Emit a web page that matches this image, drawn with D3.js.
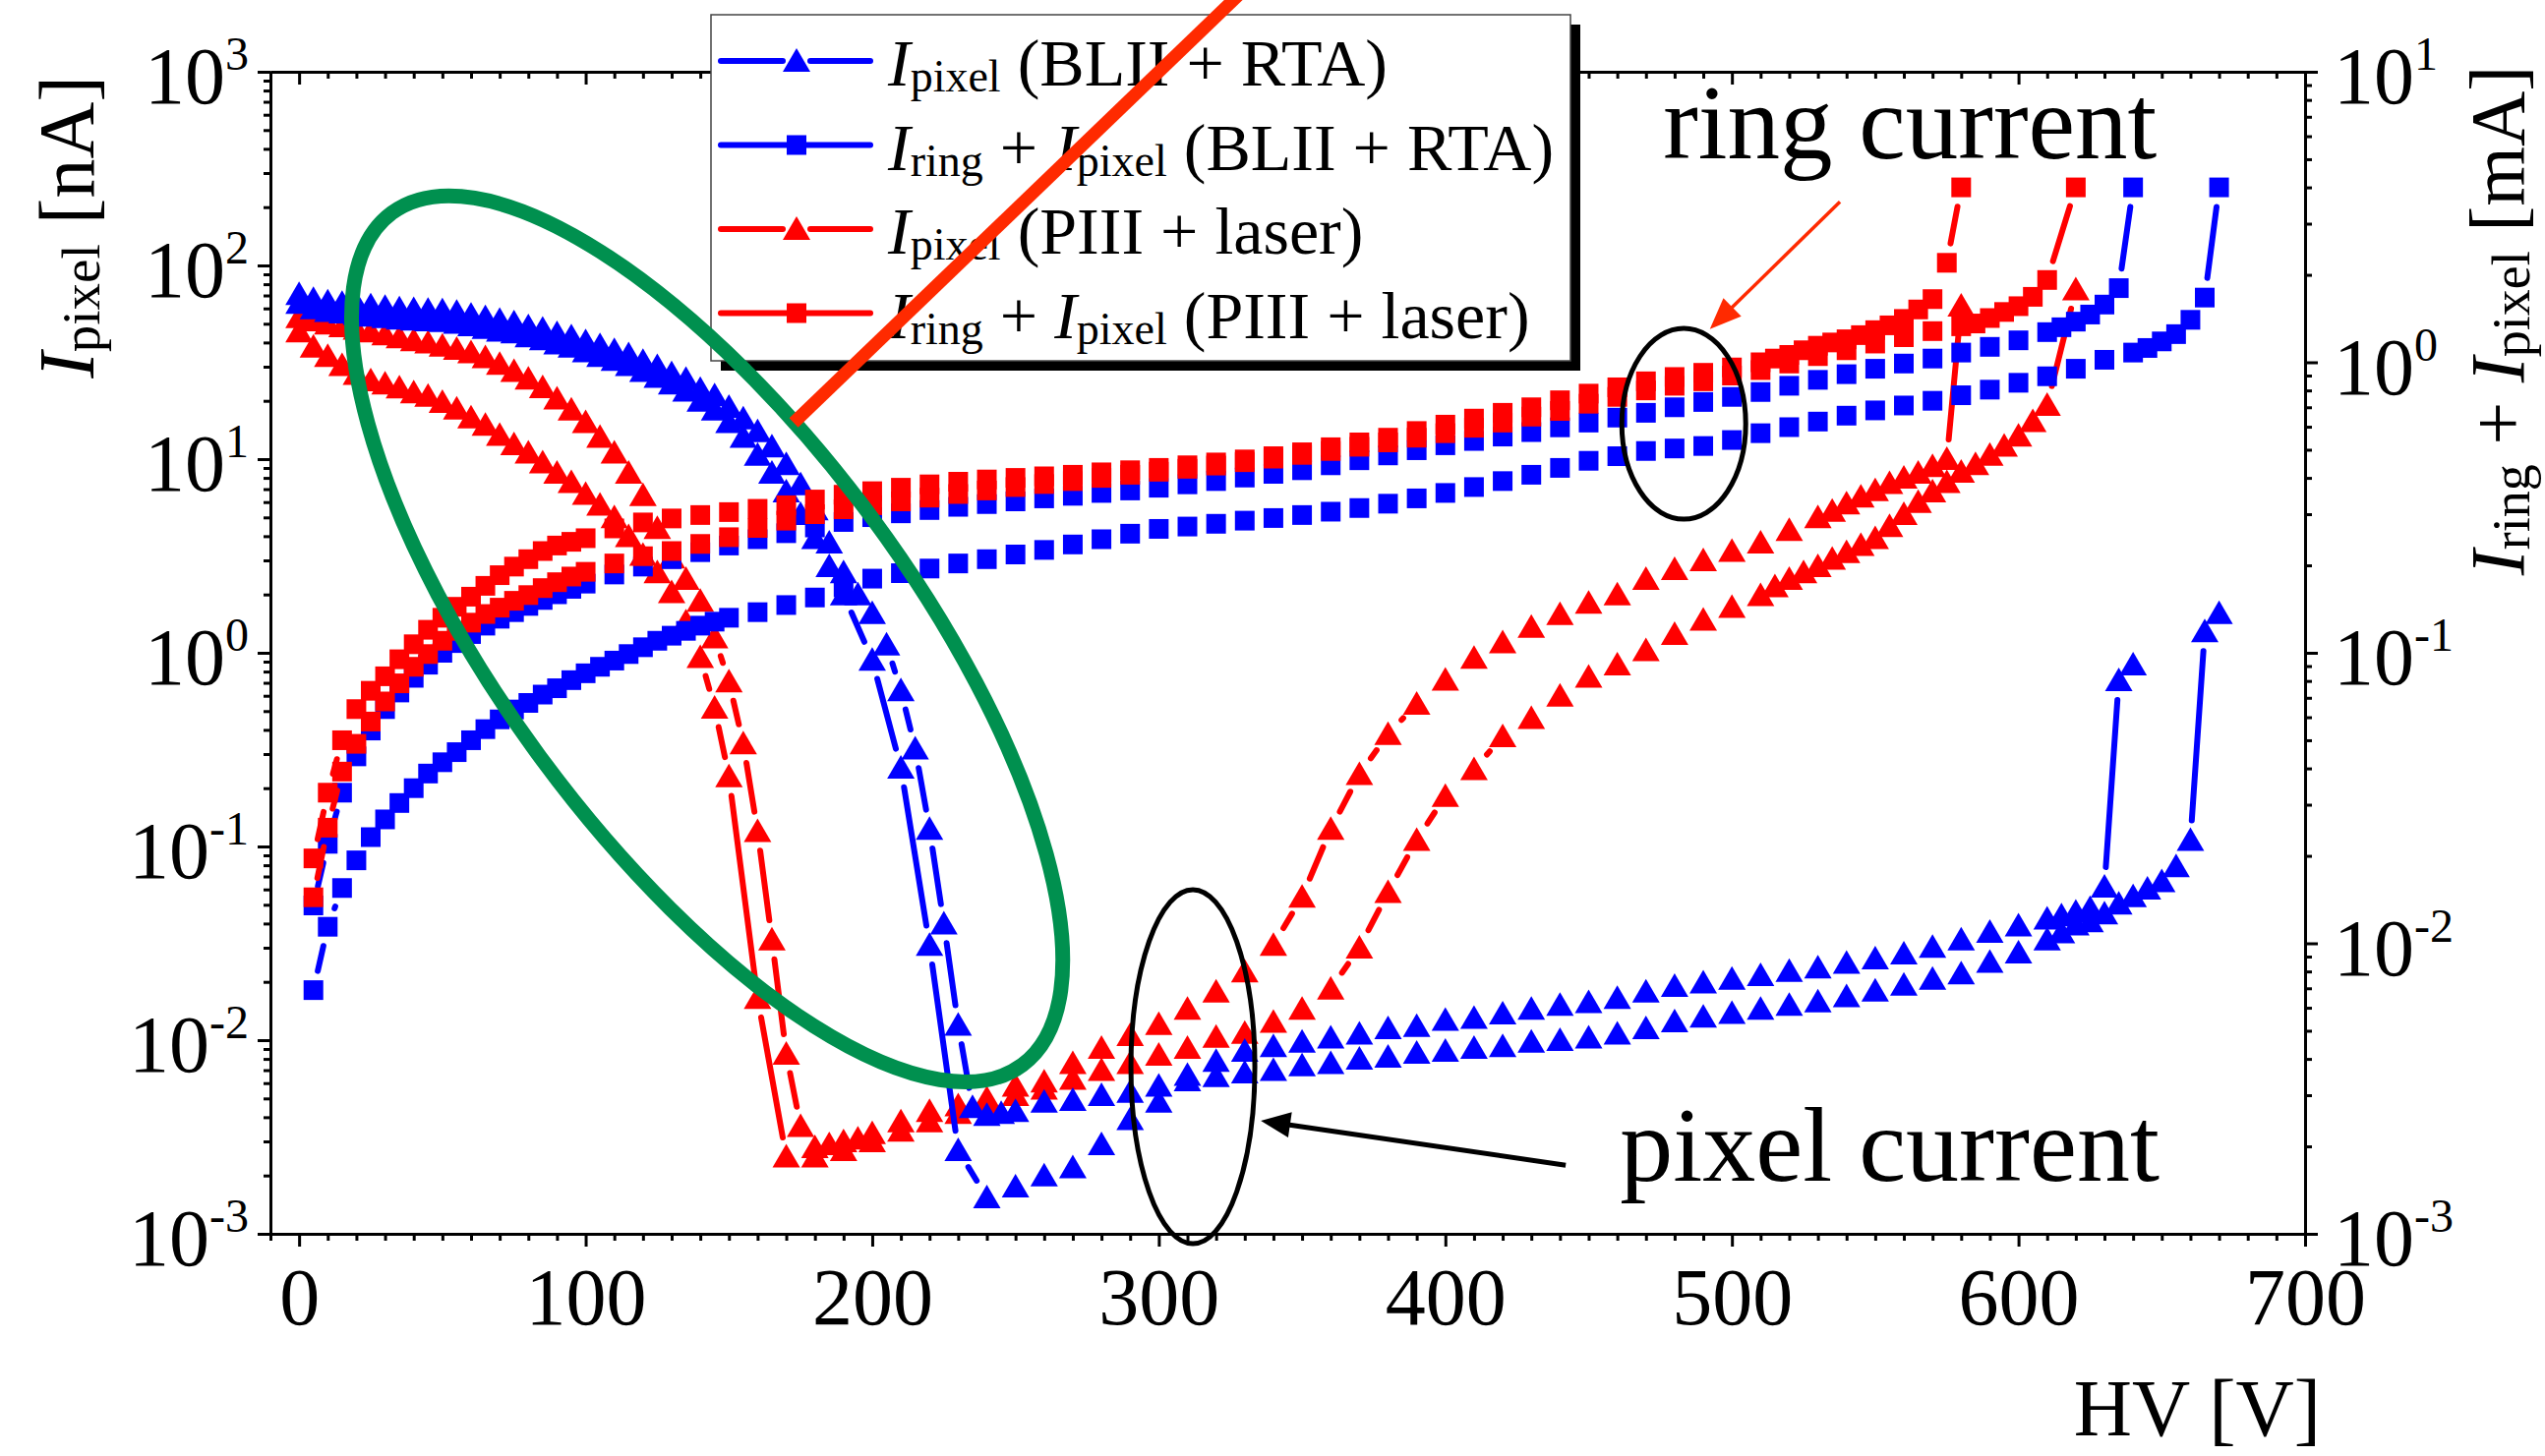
<!DOCTYPE html>
<html>
<head>
<meta charset="utf-8">
<script src="https://cdn.jsdelivr.net/npm/d3@7"></script>
<style>
  html, body { margin: 0; padding: 0; background: #fff; }
  svg { display: block; font-family: "Liberation Serif", "Times New Roman", serif; }
  text { white-space: pre; }
</style>
</head>
<body>
<svg id="chart" width="2588" height="1481"></svg>
<script>
// ---- data: [HV (V), current] ----
// pixel currents in nA (left axis)
const pixBLII_a = [[0,71],[5,67],[10,65],[15,64],[20,63.3],[25,62.1],[30,61],[35,60],[40,59.5],[45,59],[50,58.5],[55,57.5],[60,55.5],[65,54],[70,52.2],[75,50.8],[80,48.5],[85,47],[90,44.7],[95,43],[100,40.5],[105,38.7],[110,36.5],[115,34.7],[120,32.1],[125,30.2],[130,27.7],[135,25.9],[140,23],[145,21.3],[150,18.6],[155,16.2],[160,13.9],[165,11.6],[170,9.4],[175,7.4],[180,5.5],[185,3.7],[190,2.6],[195,2.0],[200,1.6],[205,1.1],[210,0.64],[215,0.32],[220,0.123],[225,0.04],[230,0.012],[235,0.0045],[240,0.0041],[245,0.0042],[250,0.0043],[260,0.0048],[270,0.0049],[280,0.0052],[290,0.0054],[300,0.0058],[310,0.0062],[320,0.0065],[330,0.0068],[340,0.007],[350,0.0074],[360,0.0076],[370,0.008],[380,0.0082],[390,0.0086],[400,0.0088],[410,0.0091],[420,0.0093],[430,0.0098],[440,0.0100],[450,0.0103],[460,0.0108],[470,0.0115],[480,0.0125],[490,0.0132],[500,0.0138],[510,0.0145],[520,0.0152],[530,0.0158],[540,0.0168],[550,0.018],[560,0.0193],[570,0.0207],[580,0.0221],[590,0.0253],[600,0.0283],[610,0.033],[615,0.036],[620,0.0395],[625,0.041],[630,0.045],[635,0.0506],[640,0.0553],[645,0.0605],[650,0.066],[655,0.079],[660,0.108],[665,1.29],[670,1.6]];
const pixBLII_b = [[0,64],[5,60],[10,58],[15,57],[20,56],[25,55],[30,54],[35,53],[40,52.5],[45,52],[50,51.5],[55,50.5],[60,49],[65,47.5],[70,46],[75,45],[80,43],[85,41.5],[90,39.5],[95,38],[100,36],[105,34],[110,32.5],[115,30.5],[120,28.5],[125,26.5],[130,24.5],[135,22.5],[140,20],[145,18],[150,15.5],[155,13],[160,10.5],[165,8.5],[170,6.8],[175,5.2],[180,3.9],[185,2.8],[190,2.0],[200,0.92],[210,0.255],[220,0.031],[230,0.0027],[240,0.00154],[250,0.00175],[260,0.002],[270,0.0022],[280,0.0029],[290,0.0039],[300,0.0048],[310,0.0066],[320,0.0078],[330,0.0088],[340,0.0093],[350,0.0098],[360,0.0103],[370,0.0108],[380,0.0115],[390,0.0118],[400,0.0127],[410,0.013],[420,0.0137],[430,0.0145],[440,0.0152],[450,0.0157],[460,0.0165],[470,0.0178],[480,0.019],[490,0.0198],[500,0.0207],[510,0.0216],[520,0.0227],[530,0.0237],[540,0.025],[550,0.0264],[560,0.028],[570,0.0303],[580,0.033],[590,0.0362],[600,0.039],[610,0.0423],[615,0.044],[620,0.046],[625,0.048],[630,0.062],[635,0.72],[640,0.87]];
const pixPIII_a = [[0,54],[5,52],[10,50],[15,48.5],[20,47],[25,45.5],[30,44],[35,42.5],[40,41],[45,40],[50,38.5],[55,37],[60,35.5],[65,33.5],[70,31],[75,28.5],[80,26],[85,23.5],[90,20.5],[95,18],[100,15.5],[105,13],[110,10.8],[115,8.5],[120,6.5],[125,4.4],[130,3.1],[135,2.4],[140,1.85],[145,1.2],[150,0.71],[155,0.34],[160,0.12],[165,0.033],[170,0.0085],[175,0.0036],[180,0.0028],[185,0.0029],[190,0.003],[195,0.0031],[200,0.0033],[210,0.0038],[220,0.0043],[230,0.0046],[240,0.005],[250,0.0058],[260,0.0061],[270,0.0076],[280,0.0091],[290,0.0106],[300,0.0121],[310,0.0145],[320,0.0178],[330,0.0226],[340,0.031],[350,0.055],[360,0.123],[370,0.236],[380,0.38],[390,0.545],[400,0.725],[410,0.94],[420,1.13],[430,1.36],[440,1.58],[450,1.81],[460,2.0],[470,2.4],[480,2.7],[490,3.0],[500,3.35],[510,3.7],[520,4.3],[530,5.0],[535,5.4],[540,5.9],[545,6.4],[550,6.9],[555,7.5],[560,8.0],[565,8.5],[570,9.2],[575,10],[580,62]];
const pixPIII_b = [[0,45.5],[5,38],[10,34],[15,30.5],[20,27.5],[25,25.5],[30,24.5],[35,23.4],[40,22.1],[45,21.2],[50,19.7],[55,18.2],[60,16.4],[65,15],[70,13.3],[75,11.9],[80,10.8],[85,9.6],[90,8.5],[95,7.6],[100,6.6],[105,5.8],[110,5.0],[115,4.0],[120,3.2],[125,2.6],[130,2.05],[135,1.45],[140,0.95],[145,0.52],[150,0.23],[160,0.0165],[170,0.0025],[180,0.0025],[190,0.0027],[200,0.003],[210,0.0034],[220,0.0038],[230,0.0042],[240,0.0046],[250,0.0052],[260,0.0056],[270,0.0063],[280,0.007],[290,0.0076],[300,0.0084],[310,0.0091],[320,0.0104],[330,0.0109],[340,0.0124],[350,0.0145],[360,0.0184],[370,0.03],[380,0.058],[390,0.108],[400,0.182],[410,0.25],[420,0.37],[430,0.46],[440,0.6],[450,0.75],[460,0.87],[470,1.03],[480,1.25],[490,1.48],[500,1.72],[510,1.98],[515,2.2],[520,2.4],[525,2.6],[530,2.8],[535,3.05],[540,3.3],[545,3.6],[550,3.9],[555,4.5],[560,5.2],[565,6.0],[570,6.8],[575,7.6],[580,8.6],[585,9.4],[590,10.5],[595,11.7],[600,13.2],[605,15.7],[610,19],[620,75]];
// ring + pixel currents in mA (right axis)
const ringBLII_a = [[5,0.0135],[10,0.022],[15,0.033],[20,0.044],[25,0.054],[30,0.064],[35,0.073],[40,0.082],[45,0.091],[50,0.1],[55,0.108],[60,0.116],[65,0.124],[70,0.131],[75,0.138],[80,0.145],[85,0.152],[90,0.159],[95,0.166],[100,0.173],[110,0.186],[120,0.198],[130,0.21],[140,0.222],[150,0.234],[160,0.246],[170,0.258],[180,0.27],[190,0.282],[200,0.293],[210,0.302],[220,0.31],[230,0.318],[240,0.325],[250,0.332],[260,0.34],[270,0.347],[280,0.355],[290,0.362],[300,0.37],[310,0.38],[320,0.39],[330,0.401],[340,0.413],[350,0.425],[360,0.442],[370,0.46],[380,0.478],[390,0.498],[400,0.518],[410,0.536],[420,0.555],[430,0.575],[440,0.597],[450,0.62],[460,0.645],[470,0.67],[480,0.7],[490,0.73],[500,0.76],[510,0.79],[520,0.83],[530,0.87],[540,0.91],[550,0.95],[560,0.99],[570,1.03],[580,1.08],[590,1.13],[600,1.19],[610,1.27],[615,1.32],[620,1.38],[625,1.46],[630,1.58],[635,1.8],[640,4.0]];
const ringBLII_b = [[5,0.0069],[10,0.0114],[15,0.0155],[20,0.0193],[25,0.0232],[30,0.0267],[35,0.0304],[40,0.0342],[45,0.0384],[50,0.042],[55,0.0455],[60,0.05],[65,0.0546],[70,0.059],[75,0.0638],[80,0.0672],[85,0.0718],[90,0.0755],[95,0.0805],[100,0.085],[105,0.0895],[110,0.094],[115,0.099],[120,0.1045],[125,0.11],[130,0.1145],[135,0.119],[140,0.124],[145,0.128],[150,0.132],[160,0.138],[170,0.146],[180,0.155],[190,0.168],[200,0.18],[210,0.188],[220,0.195],[230,0.203],[240,0.21],[250,0.218],[260,0.226],[270,0.236],[280,0.246],[290,0.257],[300,0.267],[310,0.272],[320,0.278],[330,0.285],[340,0.291],[350,0.298],[360,0.306],[370,0.315],[380,0.326],[390,0.34],[400,0.355],[410,0.372],[420,0.39],[430,0.41],[440,0.433],[450,0.458],[460,0.475],[470,0.495],[480,0.505],[490,0.515],[500,0.54],[510,0.57],[520,0.598],[530,0.625],[540,0.655],[550,0.683],[560,0.71],[570,0.737],[580,0.77],[590,0.805],[600,0.85],[610,0.895],[620,0.95],[630,1.02],[640,1.08],[645,1.12],[650,1.18],[655,1.25],[660,1.4],[665,1.67],[670,4.0]];
const ringPIII_a = [[5,0.0196],[10,0.033],[15,0.05],[20,0.064],[25,0.074],[30,0.083],[35,0.095],[40,0.107],[45,0.12],[50,0.132],[55,0.144],[60,0.156],[65,0.17],[70,0.185],[75,0.198],[80,0.21],[85,0.224],[90,0.234],[95,0.241],[100,0.248],[110,0.268],[120,0.281],[130,0.29],[140,0.298],[150,0.305],[160,0.313],[170,0.322],[180,0.337],[190,0.35],[200,0.36],[210,0.37],[220,0.38],[230,0.388],[240,0.395],[250,0.4],[260,0.405],[270,0.41],[280,0.418],[290,0.425],[300,0.433],[310,0.442],[320,0.452],[330,0.463],[340,0.475],[350,0.49],[360,0.51],[370,0.53],[380,0.55],[390,0.58],[400,0.61],[410,0.64],[420,0.67],[430,0.7],[440,0.74],[450,0.78],[460,0.82],[470,0.86],[480,0.89],[490,0.92],[500,0.96],[510,1.0],[515,1.03],[520,1.06],[525,1.1],[530,1.14],[535,1.17],[540,1.2],[545,1.24],[550,1.29],[555,1.34],[560,1.41],[565,1.52],[570,1.65],[575,2.2],[580,4.0]];
const ringPIII_b = [[5,0.0144],[10,0.025],[15,0.039],[20,0.0486],[25,0.058],[30,0.068],[35,0.0785],[40,0.0895],[45,0.099],[50,0.11],[55,0.119],[60,0.127],[65,0.136],[70,0.143],[75,0.151],[80,0.158],[85,0.167],[90,0.175],[95,0.183],[100,0.19],[110,0.203],[120,0.215],[130,0.224],[140,0.237],[150,0.25],[160,0.269],[170,0.285],[180,0.3],[190,0.312],[200,0.322],[210,0.332],[220,0.342],[230,0.352],[240,0.362],[250,0.372],[260,0.381],[270,0.39],[280,0.4],[290,0.41],[300,0.42],[310,0.43],[320,0.441],[330,0.453],[340,0.466],[350,0.48],[360,0.495],[370,0.512],[380,0.53],[390,0.55],[400,0.57],[410,0.595],[420,0.62],[430,0.65],[440,0.68],[450,0.72],[460,0.76],[470,0.8],[480,0.83],[490,0.86],[500,0.9],[510,0.94],[520,0.99],[530,1.05],[540,1.1],[550,1.16],[560,1.22],[570,1.28],[580,1.33],[585,1.36],[590,1.42],[595,1.49],[600,1.56],[605,1.68],[610,1.92],[620,4.0]];

// ---- axis ticks ----
const xMajor = [0, 100, 200, 300, 400, 500, 600, 700];
const pixDecades = [-3, -2, -1, 0, 1, 2, 3];
const ringDecades = [-3, -2, -1, 0, 1];

// ---- legend ----
const legendLabels = [
  [["I", "it"], ["pixel", "sub"], [" (BLII + RTA)", ""]],
  [["I", "it"], ["ring", "sub"], [" + ", ""], ["I", "it"], ["pixel", "sub"], [" (BLII + RTA)", ""]],
  [["I", "it"], ["pixel", "sub"], [" (PIII + laser)", ""]],
  [["I", "it"], ["ring", "sub"], [" + ", ""], ["I", "it"], ["pixel", "sub"], [" (PIII + laser)", ""]]
];

const blue = "#0000ff", red = "#ff0000";
const svg = d3.select("#chart");
const plot = { left: 275, right: 2344, top: 73, bottom: 1255 };

const x = d3.scaleLinear().domain([-10, 700]).range([plot.left, plot.right]);
const yPix = d3.scaleLog().domain([1e-3, 1e3]).range([plot.bottom, plot.top]);
const yRing = d3.scaleLog().domain([1e-3, 10]).range([plot.bottom, plot.top]);

function minorLog(decades) {
  const out = [];
  decades.slice(0, -1).forEach(k => { for (let m = 2; m <= 9; m++) out.push(m * Math.pow(10, k)); });
  return out;
}
const xMinor = d3.range(-10, 701, 10).filter(v => v % 100 !== 0);

function styleAxis(g) {
  g.selectAll("path.domain").attr("stroke", "#000").attr("stroke-width", 3);
  g.selectAll(".tick line").attr("stroke", "#000").attr("stroke-width", 3);
}

// bottom axis
svg.append("g").attr("transform", `translate(0,${plot.bottom})`)
  .call(d3.axisBottom(x).tickValues(xMinor).tickSize(7).tickSizeOuter(0).tickFormat(""))
  .call(styleAxis);
const xAxisG = svg.append("g").attr("transform", `translate(0,${plot.bottom})`)
  .call(d3.axisBottom(x).tickValues(xMajor).tickSize(13).tickSizeOuter(0).tickPadding(21).tickFormat(d3.format("d")))
  .call(styleAxis);
xAxisG.selectAll("text").attr("font-size", 82).attr("font-family", "Liberation Serif").attr("fill", "#000");

// top axis (ticks inward)
svg.append("g").attr("transform", `translate(0,${plot.top})`)
  .call(d3.axisTop(x).tickValues(xMinor).tickSize(-7).tickSizeOuter(0).tickFormat(""))
  .call(styleAxis);
svg.append("g").attr("transform", `translate(0,${plot.top})`)
  .call(d3.axisTop(x).tickValues(xMajor).tickSize(-13).tickSizeOuter(0).tickFormat(""))
  .call(styleAxis);

// left axis
svg.append("g").attr("transform", `translate(${plot.left},0)`)
  .call(d3.axisLeft(yPix).tickValues(minorLog(pixDecades)).tickSize(7).tickSizeOuter(0).tickFormat(""))
  .call(styleAxis);
svg.append("g").attr("transform", `translate(${plot.left},0)`)
  .call(d3.axisLeft(yPix).tickValues(pixDecades.map(k => Math.pow(10, k))).tickSize(13).tickSizeOuter(0).tickFormat(""))
  .call(styleAxis);

// right axis
svg.append("g").attr("transform", `translate(${plot.right},0)`)
  .call(d3.axisRight(yRing).tickValues(minorLog(ringDecades)).tickSize(7).tickSizeOuter(0).tickFormat(""))
  .call(styleAxis);
svg.append("g").attr("transform", `translate(${plot.right},0)`)
  .call(d3.axisRight(yRing).tickValues(ringDecades.map(k => Math.pow(10, k))).tickSize(13).tickSizeOuter(0).tickFormat(""))
  .call(styleAxis);

// power-of-ten labels
function powerLabel(g, px, py, k, anchor) {
  const t = g.append("text").attr("x", px).attr("y", py + 32)
    .attr("text-anchor", anchor).attr("font-size", 82).attr("fill", "#000");
  t.append("tspan").text("10");
  t.append("tspan").attr("dy", -34).attr("font-size", 48).text(k < 0 ? "-" + (-k) : String(k));
}
const labelsG = svg.append("g");
pixDecades.forEach(k => powerLabel(labelsG, 253, yPix(Math.pow(10, k)), k, "end"));
ringDecades.forEach(k => powerLabel(labelsG, 2373, yRing(Math.pow(10, k)), k, "start"));

// axis titles
function richText(t, parts, size, sub) {
  parts.forEach(([s, kind]) => {
    const ts = t.append("tspan").text(s);
    if (kind === "it") ts.attr("font-style", "italic");
    if (kind === "sub") ts.attr("font-size", sub).attr("dy", 6);
    else if (t.node().lastSub) ts.attr("dy", -6);
    t.node().lastSub = kind === "sub";
  });
}
const leftTitle = svg.append("text").attr("transform", "translate(95,231) rotate(-90)")
  .attr("text-anchor", "middle").attr("font-size", 80).attr("fill", "#000");
richText(leftTitle, [["I", "it"], ["pixel", "sub"], [" [nA]", ""]], 80, 55);
const rightTitle = svg.append("text").attr("transform", "translate(2566,326) rotate(-90)")
  .attr("text-anchor", "middle").attr("font-size", 78).attr("fill", "#000");
richText(rightTitle, [["I", "it"], ["ring", "sub"], [" + ", ""], ["I", "it"], ["pixel", "sub"], [" [mA]", ""]], 78, 54);
svg.append("text").attr("x", 2360).attr("y", 1460).attr("text-anchor", "end")
  .attr("font-size", 82).attr("fill", "#000").text("HV [V]");

// ---- series ----
const triPath = "M0,-13L14,11L-14,11Z";
const sqPath = "M-10,-10h20v20h-20z";
const gap = 20;

function drawSeries(data, yScale, color, shape) {
  const g = svg.append("g");
  const pts = data.map(d => [x(d[0]), yScale(d[1])]);
  for (let i = 1; i < pts.length; i++) {
    const [x0, y0] = pts[i - 1], [x1, y1] = pts[i];
    const len = Math.hypot(x1 - x0, y1 - y0);
    if (len <= 2 * gap + 2) continue;
    const ux = (x1 - x0) / len, uy = (y1 - y0) / len;
    g.append("line")
      .attr("x1", x0 + ux * gap).attr("y1", y0 + uy * gap)
      .attr("x2", x1 - ux * gap).attr("y2", y1 - uy * gap)
      .attr("stroke", color).attr("stroke-width", 6).attr("stroke-linecap", "round");
  }
  g.selectAll("path.m").data(pts).enter().append("path")
    .attr("class", "m")
    .attr("d", shape === "tri" ? triPath : sqPath)
    .attr("transform", d => `translate(${d[0]},${d[1]})`)
    .attr("fill", color);
}

drawSeries(pixPIII_a, yPix, red, "tri");
drawSeries(pixPIII_b, yPix, red, "tri");
drawSeries(pixBLII_a, yPix, blue, "tri");
drawSeries(pixBLII_b, yPix, blue, "tri");
drawSeries(ringBLII_a, yRing, blue, "sq");
drawSeries(ringBLII_b, yRing, blue, "sq");
drawSeries(ringPIII_a, yRing, red, "sq");
drawSeries(ringPIII_b, yRing, red, "sq");

// ---- legend ----
const leg = svg.append("g");
leg.append("rect").attr("x", 733).attr("y", 25).attr("width", 874).attr("height", 352).attr("fill", "#000");
leg.append("rect").attr("x", 723).attr("y", 15).attr("width", 874).attr("height", 352)
  .attr("fill", "#fff").attr("stroke", "#444").attr("stroke-width", 1.5);
const legendStyle = [[blue, "tri"], [blue, "sq"], [red, "tri"], [red, "sq"]];
legendLabels.forEach((parts, i) => {
  const cy = 62 + i * 85.5;
  const [color, shape] = legendStyle[i];
  const half = shape === "tri" ? 14 : 10;
  leg.append("line").attr("x1", 733).attr("x2", 810 - half).attr("y1", cy).attr("y2", cy)
    .attr("stroke", color).attr("stroke-width", 6).attr("stroke-linecap", "round");
  leg.append("line").attr("x1", 810 + half).attr("x2", 885).attr("y1", cy).attr("y2", cy)
    .attr("stroke", color).attr("stroke-width", 6).attr("stroke-linecap", "round");
  leg.append("path").attr("d", shape === "tri" ? triPath : sqPath)
    .attr("transform", `translate(810,${cy})`).attr("fill", color);
  const t = leg.append("text").attr("x", 903).attr("y", cy + 25).attr("font-size", 68).attr("fill", "#000");
  richText(t, parts, 68, 46);
});

// ---- annotations ----
const ann = svg.append("g");
// green ellipse around the breakdown region
ann.append("ellipse")
  .attr("transform", `translate(${x(142.4)},${yPix(1.18)}) rotate(53.5)`)
  .attr("rx", 539).attr("ry", 208)
  .attr("fill", "none").attr("stroke", "#00904f").attr("stroke-width", 15);
// thick orange-red slash
ann.append("line")
  .attr("x1", x(172.6)).attr("y1", yPix(15.4)).attr("x2", x(329.8)).attr("y2", yPix(2655))
  .attr("stroke", "#ff2a00").attr("stroke-width", 13);
// black ellipses
ann.append("ellipse").attr("cx", x(483.2)).attr("cy", yRing(0.614)).attr("rx", 63).attr("ry", 97)
  .attr("fill", "none").attr("stroke", "#000").attr("stroke-width", 5);
ann.append("ellipse").attr("cx", x(311.9)).attr("cy", yPix(0.0073)).attr("rx", 63).attr("ry", 180)
  .attr("fill", "none").attr("stroke", "#000").attr("stroke-width", 5);

function arrow(x0, y0, x1, y1, color, width, headLen, headHalf) {
  const len = Math.hypot(x1 - x0, y1 - y0);
  const ux = (x1 - x0) / len, uy = (y1 - y0) / len;
  const bx = x1 - ux * headLen, by = y1 - uy * headLen;
  ann.append("line").attr("x1", x0).attr("y1", y0).attr("x2", bx + ux * 2).attr("y2", by + uy * 2)
    .attr("stroke", color).attr("stroke-width", width);
  ann.append("path")
    .attr("d", `M${x1},${y1}L${bx - uy * headHalf},${by + ux * headHalf}L${bx + uy * headHalf},${by - ux * headHalf}Z`)
    .attr("fill", color);
}
arrow(x(537.7), yRing(3.57), x(492.3), yRing(1.30), "#ff2a00", 3.5, 32, 13);
arrow(x(442), yPix(0.00226), x(335.6), yPix(0.00384), "#000", 5, 30, 13);

ann.append("text").attr("x", x(476)).attr("y", yRing(5.03)).attr("font-size", 107).attr("fill", "#000").text("ring current");
ann.append("text").attr("x", x(460.9)).attr("y", yPix(0.00188)).attr("font-size", 108).attr("fill", "#000").text("pixel current");
</script>
</body>
</html>
